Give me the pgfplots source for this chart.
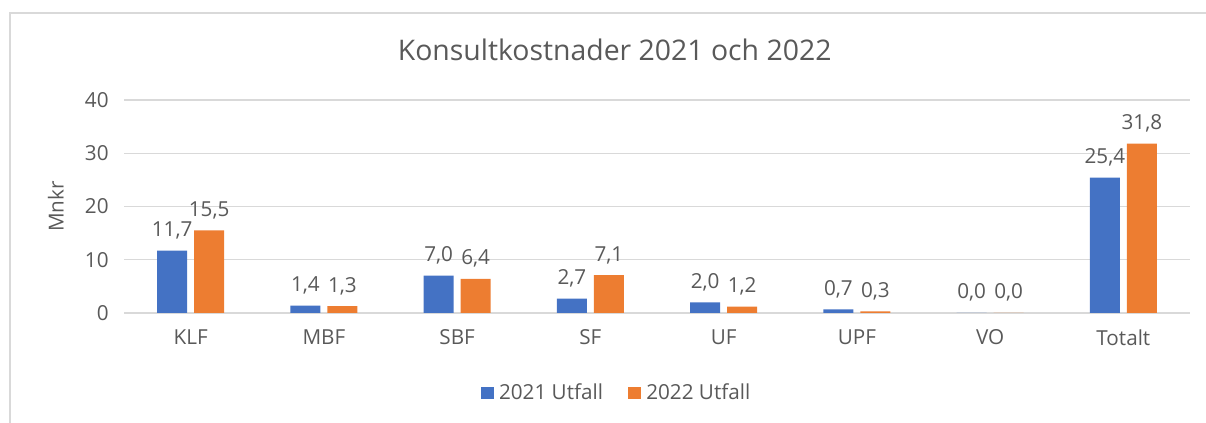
\documentclass[border=0pt]{standalone}
\usepackage{pgfplots}
\pgfplotsset{compat=1.18}
\usepackage{fontspec}
\setmainfont{Open Sans}
\definecolor{txt}{HTML}{595959}
\definecolor{grd}{HTML}{D9D9D9}
\definecolor{cblue}{HTML}{4472C4}
\definecolor{corange}{HTML}{ED7D31}
\begin{document}
\begin{tikzpicture}
\useasboundingbox (0pt,0pt) rectangle (904.5pt,-317.25pt);
\draw[grd, line width=1.2pt] (7.5pt,-330pt) -- (7.5pt,-9.75pt) -- (910pt,-9.75pt);
\node[txt, font=\fontsize{21.3}{25}\selectfont, anchor=base] at (461pt,-45.75pt) {Konsultkostnader 2021 och 2022};
\begin{axis}[
  at={(93pt,-234.75pt)}, anchor=south west,
  scale only axis, width=799.5pt, height=159.75pt,
  ybar=5.25pt, bar width=22.5pt,
  xmin=-0.5, xmax=7.5, ymin=0, ymax=40,
  xtick=data,
  xticklabels={KLF,MBF,SBF,SF,UF,UPF,VO,Totalt},
  ytick={0,10,20,30,40},
  axis line style={draw=none},
  major tick length=0pt,
  ymajorgrids, grid style={grd, line width=1.1pt},
  tick label style={txt, font=\fontsize{15.5}{18}\selectfont},
  /pgf/number format/assume math mode=true,
  yticklabel style={xshift=-8pt},
  xticklabel style={yshift=-9pt},
  ylabel={Mnkr}, ylabel style={txt, font=\fontsize{15.5}{18}\selectfont, at={(axis description cs:-0.064,0.5)}, anchor=center},
  nodes near coords,
  nodes near coords style={txt, font=\fontsize{15.5}{18}\selectfont,
    /pgf/number format/fixed, /pgf/number format/fixed zerofill,
    /pgf/number format/precision=1, /pgf/number format/use comma,
    /pgf/number format/assume math mode=true, yshift=5pt},
  clip=false,
  legend style={at={(0.4625,-0.375)}, anchor=center, draw=none, legend columns=2,
    font=\fontsize{15.5}{18}\selectfont, text=txt,
    /tikz/every odd column/.append style={column sep=2pt},
    /tikz/every even column/.append style={column sep=17pt}},
  legend image code/.code={\fill[#1] (0pt,-4.75pt) rectangle (9.5pt,4.75pt);},
]
\addplot[fill=cblue, draw=none] coordinates {(0,11.7) (1,1.4) (2,7.0) (3,2.7) (4,2.0) (5,0.7) (6,0.0) (7,25.4)};
\addplot[fill=corange, draw=none] coordinates {(0,15.5) (1,1.3) (2,6.4) (3,7.1) (4,1.2) (5,0.3) (6,0.0) (7,31.8)};
\legend{2021 Utfall, 2022 Utfall}
\end{axis}
\end{tikzpicture}
\end{document}
